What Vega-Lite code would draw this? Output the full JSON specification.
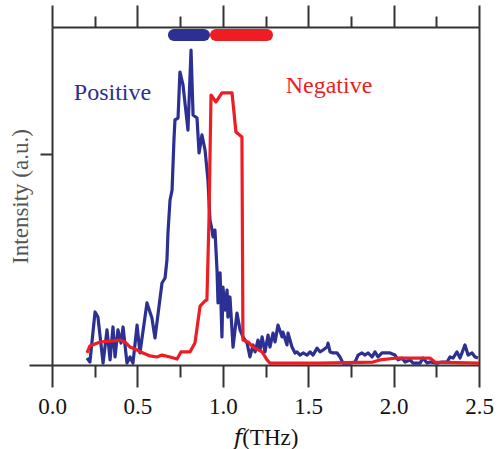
{
  "$schema": "https://vega.github.io/schema/vega-lite/v6.json",
  "width": 427,
  "height": 338,
  "autosize": {"type": "none"},
  "padding": {"left": 52, "top": 27, "right": 20, "bottom": 84},
  "config": {
    "view": {"stroke": null},
    "font": "Liberation Serif, Times New Roman, DejaVu Serif, serif",
    "axis": {"domainColor": "#333333", "domainWidth": 2, "tickColor": "#333333", "tickWidth": 2, "grid": false, "labelFont": "Liberation Serif, Times New Roman, DejaVu Serif, serif", "titleFont": "Liberation Serif, Times New Roman, DejaVu Serif, serif", "titleFontWeight": "normal"}
  },
  "datasets": {
    "curves": [
      {"series": "Positive", "f": 0.205, "intensity": 0.033},
      {"series": "Positive", "f": 0.222, "intensity": 0.014},
      {"series": "Positive", "f": 0.252, "intensity": 0.251},
      {"series": "Positive", "f": 0.269, "intensity": 0.227},
      {"series": "Positive", "f": 0.299, "intensity": 0.009},
      {"series": "Positive", "f": 0.322, "intensity": 0.166},
      {"series": "Positive", "f": 0.340, "intensity": 0.024},
      {"series": "Positive", "f": 0.357, "intensity": 0.180},
      {"series": "Positive", "f": 0.369, "intensity": 0.038},
      {"series": "Positive", "f": 0.386, "intensity": 0.166},
      {"series": "Positive", "f": 0.404, "intensity": 0.104},
      {"series": "Positive", "f": 0.416, "intensity": 0.180},
      {"series": "Positive", "f": 0.439, "intensity": 0.009},
      {"series": "Positive", "f": 0.457, "intensity": 0.038},
      {"series": "Positive", "f": 0.474, "intensity": 0.009},
      {"series": "Positive", "f": 0.498, "intensity": 0.189},
      {"series": "Positive", "f": 0.515, "intensity": 0.057},
      {"series": "Positive", "f": 0.556, "intensity": 0.294},
      {"series": "Positive", "f": 0.585, "intensity": 0.222},
      {"series": "Positive", "f": 0.603, "intensity": 0.128},
      {"series": "Positive", "f": 0.644, "intensity": 0.388},
      {"series": "Positive", "f": 0.662, "intensity": 0.412},
      {"series": "Positive", "f": 0.673, "intensity": 0.497},
      {"series": "Positive", "f": 0.679, "intensity": 0.625},
      {"series": "Positive", "f": 0.691, "intensity": 0.781},
      {"series": "Positive", "f": 0.703, "intensity": 0.828},
      {"series": "Positive", "f": 0.714, "intensity": 1.065},
      {"series": "Positive", "f": 0.720, "intensity": 1.160},
      {"series": "Positive", "f": 0.738, "intensity": 1.169},
      {"series": "Positive", "f": 0.749, "intensity": 1.387},
      {"series": "Positive", "f": 0.767, "intensity": 1.326},
      {"series": "Positive", "f": 0.796, "intensity": 1.112},
      {"series": "Positive", "f": 0.814, "intensity": 1.491},
      {"series": "Positive", "f": 0.826, "intensity": 1.183},
      {"series": "Positive", "f": 0.849, "intensity": 1.169},
      {"series": "Positive", "f": 0.861, "intensity": 1.004},
      {"series": "Positive", "f": 0.878, "intensity": 1.089},
      {"series": "Positive", "f": 0.896, "intensity": 1.018},
      {"series": "Positive", "f": 0.913, "intensity": 0.876},
      {"series": "Positive", "f": 0.925, "intensity": 0.686},
      {"series": "Positive", "f": 0.937, "intensity": 0.639},
      {"series": "Positive", "f": 0.943, "intensity": 0.606},
      {"series": "Positive", "f": 0.954, "intensity": 0.639},
      {"series": "Positive", "f": 0.966, "intensity": 0.450},
      {"series": "Positive", "f": 0.972, "intensity": 0.294},
      {"series": "Positive", "f": 0.984, "intensity": 0.436},
      {"series": "Positive", "f": 0.995, "intensity": 0.133},
      {"series": "Positive", "f": 1.001, "intensity": 0.369},
      {"series": "Positive", "f": 1.013, "intensity": 0.260},
      {"series": "Positive", "f": 1.025, "intensity": 0.355},
      {"series": "Positive", "f": 1.030, "intensity": 0.227},
      {"series": "Positive", "f": 1.042, "intensity": 0.322},
      {"series": "Positive", "f": 1.060, "intensity": 0.085},
      {"series": "Positive", "f": 1.083, "intensity": 0.246},
      {"series": "Positive", "f": 1.101, "intensity": 0.166},
      {"series": "Positive", "f": 1.118, "intensity": 0.133},
      {"series": "Positive", "f": 1.142, "intensity": 0.104},
      {"series": "Positive", "f": 1.159, "intensity": 0.038},
      {"series": "Positive", "f": 1.177, "intensity": 0.095},
      {"series": "Positive", "f": 1.189, "intensity": 0.062},
      {"series": "Positive", "f": 1.206, "intensity": 0.118},
      {"series": "Positive", "f": 1.218, "intensity": 0.071},
      {"series": "Positive", "f": 1.230, "intensity": 0.133},
      {"series": "Positive", "f": 1.247, "intensity": 0.062},
      {"series": "Positive", "f": 1.265, "intensity": 0.142},
      {"series": "Positive", "f": 1.276, "intensity": 0.085},
      {"series": "Positive", "f": 1.294, "intensity": 0.151},
      {"series": "Positive", "f": 1.306, "intensity": 0.109},
      {"series": "Positive", "f": 1.323, "intensity": 0.189},
      {"series": "Positive", "f": 1.347, "intensity": 0.133},
      {"series": "Positive", "f": 1.352, "intensity": 0.156},
      {"series": "Positive", "f": 1.376, "intensity": 0.095},
      {"series": "Positive", "f": 1.382, "intensity": 0.151},
      {"series": "Positive", "f": 1.405, "intensity": 0.085},
      {"series": "Positive", "f": 1.423, "intensity": 0.057},
      {"series": "Positive", "f": 1.434, "intensity": 0.062},
      {"series": "Positive", "f": 1.452, "intensity": 0.047},
      {"series": "Positive", "f": 1.470, "intensity": 0.057},
      {"series": "Positive", "f": 1.493, "intensity": 0.047},
      {"series": "Positive", "f": 1.511, "intensity": 0.062},
      {"series": "Positive", "f": 1.528, "intensity": 0.047},
      {"series": "Positive", "f": 1.552, "intensity": 0.080},
      {"series": "Positive", "f": 1.569, "intensity": 0.062},
      {"series": "Positive", "f": 1.587, "intensity": 0.071},
      {"series": "Positive", "f": 1.610, "intensity": 0.085},
      {"series": "Positive", "f": 1.616, "intensity": 0.104},
      {"series": "Positive", "f": 1.628, "intensity": 0.062},
      {"series": "Positive", "f": 1.645, "intensity": 0.057},
      {"series": "Positive", "f": 1.669, "intensity": 0.057},
      {"series": "Positive", "f": 1.686, "intensity": 0.038},
      {"series": "Positive", "f": 1.704, "intensity": 0.009},
      {"series": "Positive", "f": 1.745, "intensity": 0.009},
      {"series": "Positive", "f": 1.774, "intensity": 0.014},
      {"series": "Positive", "f": 1.792, "intensity": 0.047},
      {"series": "Positive", "f": 1.815, "intensity": 0.057},
      {"series": "Positive", "f": 1.833, "intensity": 0.047},
      {"series": "Positive", "f": 1.850, "intensity": 0.057},
      {"series": "Positive", "f": 1.874, "intensity": 0.038},
      {"series": "Positive", "f": 1.891, "intensity": 0.062},
      {"series": "Positive", "f": 1.909, "intensity": 0.038},
      {"series": "Positive", "f": 1.932, "intensity": 0.057},
      {"series": "Positive", "f": 1.950, "intensity": 0.057},
      {"series": "Positive", "f": 1.979, "intensity": 0.057},
      {"series": "Positive", "f": 2.008, "intensity": 0.047},
      {"series": "Positive", "f": 2.026, "intensity": 0.024},
      {"series": "Positive", "f": 2.049, "intensity": 0.033},
      {"series": "Positive", "f": 2.067, "intensity": 0.014},
      {"series": "Positive", "f": 2.096, "intensity": 0.024},
      {"series": "Positive", "f": 2.114, "intensity": 0.009},
      {"series": "Positive", "f": 2.155, "intensity": 0.009},
      {"series": "Positive", "f": 2.172, "intensity": 0.033},
      {"series": "Positive", "f": 2.196, "intensity": 0.009},
      {"series": "Positive", "f": 2.213, "intensity": 0.014},
      {"series": "Positive", "f": 2.254, "intensity": 0.009},
      {"series": "Positive", "f": 2.283, "intensity": 0.014},
      {"series": "Positive", "f": 2.313, "intensity": 0.014},
      {"series": "Positive", "f": 2.330, "intensity": 0.038},
      {"series": "Positive", "f": 2.348, "intensity": 0.033},
      {"series": "Positive", "f": 2.371, "intensity": 0.062},
      {"series": "Positive", "f": 2.389, "intensity": 0.033},
      {"series": "Positive", "f": 2.418, "intensity": 0.095},
      {"series": "Positive", "f": 2.436, "intensity": 0.047},
      {"series": "Positive", "f": 2.459, "intensity": 0.057},
      {"series": "Positive", "f": 2.477, "intensity": 0.038},
      {"series": "Positive", "f": 2.494, "intensity": 0.033},
      {"series": "Negative", "f": 0.205, "intensity": 0.057},
      {"series": "Negative", "f": 0.222, "intensity": 0.090},
      {"series": "Negative", "f": 0.281, "intensity": 0.109},
      {"series": "Negative", "f": 0.357, "intensity": 0.114},
      {"series": "Negative", "f": 0.398, "intensity": 0.118},
      {"series": "Negative", "f": 0.427, "intensity": 0.109},
      {"series": "Negative", "f": 0.457, "intensity": 0.085},
      {"series": "Negative", "f": 0.498, "intensity": 0.071},
      {"series": "Negative", "f": 0.533, "intensity": 0.057},
      {"series": "Negative", "f": 0.574, "intensity": 0.043},
      {"series": "Negative", "f": 0.615, "intensity": 0.038},
      {"series": "Negative", "f": 0.644, "intensity": 0.047},
      {"series": "Negative", "f": 0.691, "intensity": 0.038},
      {"series": "Negative", "f": 0.732, "intensity": 0.028},
      {"series": "Negative", "f": 0.755, "intensity": 0.062},
      {"series": "Negative", "f": 0.808, "intensity": 0.062},
      {"series": "Negative", "f": 0.837, "intensity": 0.104},
      {"series": "Negative", "f": 0.867, "intensity": 0.279},
      {"series": "Negative", "f": 0.896, "intensity": 0.303},
      {"series": "Negative", "f": 0.907, "intensity": 0.308},
      {"series": "Negative", "f": 0.919, "intensity": 0.686},
      {"series": "Negative", "f": 0.931, "intensity": 1.278},
      {"series": "Negative", "f": 0.960, "intensity": 1.245},
      {"series": "Negative", "f": 0.995, "intensity": 1.288},
      {"series": "Negative", "f": 1.054, "intensity": 1.288},
      {"series": "Negative", "f": 1.077, "intensity": 1.103},
      {"series": "Negative", "f": 1.112, "intensity": 1.079},
      {"series": "Negative", "f": 1.118, "intensity": 0.118},
      {"series": "Negative", "f": 1.148, "intensity": 0.109},
      {"series": "Negative", "f": 1.177, "intensity": 0.085},
      {"series": "Negative", "f": 1.230, "intensity": 0.062},
      {"series": "Negative", "f": 1.259, "intensity": 0.024},
      {"series": "Negative", "f": 1.276, "intensity": 0.009},
      {"series": "Negative", "f": 1.569, "intensity": 0.009},
      {"series": "Negative", "f": 1.879, "intensity": 0.014},
      {"series": "Negative", "f": 1.920, "intensity": 0.024},
      {"series": "Negative", "f": 2.020, "intensity": 0.033},
      {"series": "Negative", "f": 2.213, "intensity": 0.033},
      {"series": "Negative", "f": 2.242, "intensity": 0.014},
      {"series": "Negative", "f": 2.500, "intensity": 0.009}
    ],
    "bar": [
      {"series": "Positive", "f": 0.714, "intensity": 1.562},
      {"series": "Positive", "f": 0.89, "intensity": 1.562},
      {"series": "Negative", "f": 0.96, "intensity": 1.562},
      {"series": "Negative", "f": 1.259, "intensity": 1.562}
    ],
    "labels": [
      {"series": "Positive", "f": 0.354, "intensity": 1.2545, "label": "Positive"},
      {"series": "Negative", "f": 1.622, "intensity": 1.288, "label": "Negative"}
    ]
  },
  "layer": [
    {
      "data": {"name": "curves"},
      "mark": {"type": "line", "strokeWidth": 3.2, "strokeJoin": "round"},
      "encoding": {
        "x": {"field": "f", "type": "quantitative", "scale": {"domain": [0, 2.5], "nice": false, "zero": false},
          "axis": {"orient": "bottom", "values": [0, 0.25, 0.5, 0.75, 1, 1.25, 1.5, 1.75, 2, 2.25, 2.5],
            "tickSize": {"condition": {"test": "round(datum.value*4) % 2 == 0", "value": 22}, "value": 12},
            "labelExpr": "round(datum.value*4) % 2 == 0 ? format(datum.value, '.1f') : ''",
            "labelFontSize": 23, "labelColor": "#111111", "labelPadding": 8, "labelFlush": false, "labelOverlap": false,
            "title": "𝑓(THz)", "titleFontSize": 23, "titleColor": "#111111", "titleY": 72, "titleBaseline": "middle"}},
        "y": {"field": "intensity", "type": "quantitative", "scale": {"domain": [0, 1.6], "nice": false},
          "axis": {"orient": "left", "values": [0, 1], "labels": false,
            "tickSize": {"condition": {"test": "datum.value == 0", "value": 23}, "value": 12},
            "title": "Intensity (a.u.)", "titleFontSize": 23, "titleColor": "#555555", "titleX": -32, "titleY": 169, "titleBaseline": "middle", "titleAlign": "center"}},
        "color": {"field": "series", "type": "nominal", "scale": {"domain": ["Positive", "Negative"], "range": ["#2b3092", "#ee1d24"]}, "legend": null}
      }
    },
    {
      "data": {"name": "bar"},
      "mark": {"type": "line", "strokeWidth": 12, "strokeCap": "round"},
      "encoding": {
        "x": {"field": "f", "type": "quantitative",
          "axis": {"orient": "top", "values": [0, 0.25, 0.5, 0.75, 1, 1.25, 1.5, 1.75, 2, 2.25, 2.5], "labels": false, "title": null,
            "tickSize": {"condition": {"test": "round(datum.value*4) % 2 == 0", "value": 22}, "value": 11}}},
        "y": {"field": "intensity", "type": "quantitative",
          "axis": {"orient": "right", "ticks": false, "labels": false, "title": null}},
        "color": {"field": "series", "type": "nominal", "legend": null}
      }
    },
    {
      "data": {"name": "labels"},
      "mark": {"type": "text", "fontSize": 24, "font": "Liberation Serif, Times New Roman, DejaVu Serif, serif", "align": "center", "baseline": "alphabetic"},
      "encoding": {
        "x": {"field": "f", "type": "quantitative", "axis": null},
        "y": {"field": "intensity", "type": "quantitative", "axis": null},
        "text": {"field": "label"},
        "color": {"field": "series", "type": "nominal", "legend": null}
      }
    }
  ],
  "resolve": {"axis": {"x": "independent", "y": "independent"}}
}
